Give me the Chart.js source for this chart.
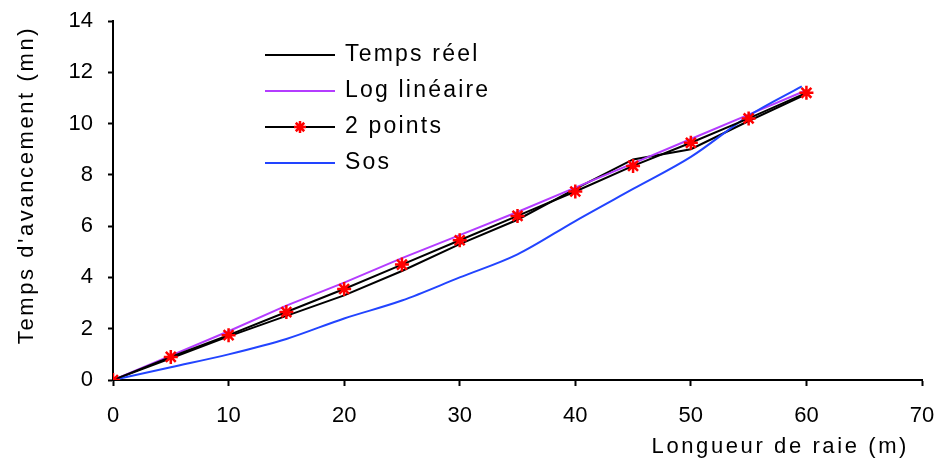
<!DOCTYPE html>
<html>
  <head>
    <meta charset="UTF-8" />
    <title>Temps d'avancement</title>
    <script src="https://cdn.jsdelivr.net/npm/chart.js"></script>
    <style>
      body {
        margin: 0;
        background: #fff;
      }
      .wrap {
        width: 939px;
        height: 464px;
        position: relative;
      }
    </style>
  </head>
  <body>
    <div class="wrap">
      <canvas id="chart" width="939" height="464"></canvas>
    </div>

    <script>
      // distances along the furrow (m)
      const xValues = [0, 5, 10, 15, 20, 25, 30, 35, 40, 45, 50, 55, 60];
      const tempsReel = [0, 0.85, 1.7, 2.5, 3.3, 4.25, 5.3, 6.25, 7.45, 8.6, 9.0, 10.1, 11.15];
      const logLineaire = [0, 0.95, 1.9, 2.9, 3.8, 4.75, 5.65, 6.55, 7.5, 8.45, 9.4, 10.35, 11.3];
      const deuxPoints = [0, 0.9, 1.75, 2.65, 3.55, 4.5, 5.45, 6.4, 7.35, 8.35, 9.25, 10.2, 11.2];
      const sosX = [0, 5, 10, 15, 20, 25, 30, 35, 40, 45, 50, 55, 59.6];
      const sos = [0, 0.5, 1.0, 1.6, 2.4, 3.1, 4.0, 4.9, 6.2, 7.45, 8.7, 10.3, 11.45];

      const xTicks = [0, 10, 20, 30, 40, 50, 60, 70];
      const yTicks = [0, 2, 4, 6, 8, 10, 12, 14];

      const xTitle = "Longueur de raie (m)";
      const yTitle = "Temps d'avancement (mn)";
      const FONT = '"Liberation Sans", Arial, sans-serif';

      const pts = (xs, ys) => xs.map((x, i) => ({ x: x, y: ys[i] }));

      const overlay = {
        id: "overlay",
        afterDraw(chart) {
          const ctx = chart.ctx;
          ctx.save();
          ctx.fillStyle = "#000";
          ctx.font = "22px " + FONT;
          ctx.letterSpacing = "2.6px";
          ctx.textBaseline = "middle";

          // x axis title, right aligned
          ctx.textAlign = "right";
          ctx.fillText(xTitle, 909, 447);

          // y axis title, rotated
          ctx.save();
          ctx.translate(27, 185);
          ctx.rotate(-Math.PI / 2);
          ctx.textAlign = "center";
          ctx.fillText(yTitle, 0, 0);
          ctx.restore();

          // legend inside the plot
          ctx.textAlign = "left";
          ctx.font = "23px " + FONT;
          ctx.letterSpacing = "2.2px";
          const rows = [55, 91, 127, 163];
          chart.data.datasets.forEach((ds, i) => {
            const y = rows[i];
            ctx.strokeStyle = ds.borderColor;
            ctx.lineWidth = 2;
            ctx.beginPath();
            ctx.moveTo(265, y);
            ctx.lineTo(335, y);
            ctx.stroke();
            if (ds.pointRadius > 0) {
              ctx.strokeStyle = ds.pointBorderColor;
              ctx.lineWidth = 2.5;
              Chart.helpers.drawPoint(
                ctx,
                { pointStyle: "star", radius: 6, rotation: 0, borderWidth: 2.5 },
                300,
                y
              );
            }
            ctx.fillStyle = "#000";
            ctx.fillText(ds.label, 345, y);
          });
          ctx.restore();
        },
      };

      new Chart(document.getElementById("chart"), {
        type: "scatter",
        data: {
          datasets: [
            {
              label: "Temps réel",
              data: pts(xValues, tempsReel),
              showLine: true,
              borderColor: "#000",
              borderWidth: 2,
              pointRadius: 0,
              order: 3,
            },
            {
              label: "Log linéaire",
              data: pts(xValues, logLineaire),
              showLine: true,
              borderColor: "#b43cff",
              borderWidth: 2,
              pointRadius: 0,
              order: 2,
            },
            {
              label: "2 points",
              data: pts(xValues, deuxPoints),
              showLine: true,
              borderColor: "#000",
              borderWidth: 2,
              pointStyle: "star",
              pointRadius: 7,
              pointBorderColor: "#ff0000",
              pointBackgroundColor: "#ff0000",
              pointBorderWidth: 2.5,
              order: 0,
            },
            {
              label: "Sos",
              data: pts(sosX, sos),
              showLine: true,
              cubicInterpolationMode: "monotone",
              borderColor: "#2244ff",
              borderWidth: 2,
              pointRadius: 0,
              order: 1,
            },
          ],
        },
        options: {
          responsive: false,
          animation: false,
          layout: { padding: { top: 21, right: 17, left: 0, bottom: 0 } },
          plugins: {
            legend: { display: false },
            tooltip: { enabled: false },
          },
          scales: {
            x: {
              type: "linear",
              min: 0,
              max: 70,
              afterBuildTicks: (s) => {
                s.ticks = xTicks.map((v) => ({ value: v }));
              },
              afterFit: (s) => {
                s.height = 84;
                s.paddingLeft = 0;
                s.paddingRight = 0;
              },
              ticks: {
                color: "#000",
                font: { family: FONT, size: 22 },
                padding: 17,
                maxRotation: 0,
              },
              grid: {
                drawOnChartArea: false,
                drawTicks: true,
                tickLength: 6,
                tickWidth: 2,
                tickColor: "#000",
              },
              border: { color: "#000", width: 2 },
            },
            y: {
              type: "linear",
              min: 0,
              max: 14,
              afterBuildTicks: (s) => {
                s.ticks = yTicks.map((v) => ({ value: v }));
              },
              afterFit: (s) => {
                s.width = 113;
                s.paddingTop = 0;
                s.paddingBottom = 0;
              },
              ticks: {
                color: "#000",
                font: { family: FONT, size: 22 },
                padding: 15,
              },
              grid: {
                drawOnChartArea: false,
                drawTicks: true,
                tickLength: 5,
                tickWidth: 2,
                tickColor: "#000",
              },
              border: { color: "#000", width: 2 },
            },
          },
        },
        plugins: [overlay],
      });
    </script>
  </body>
</html>
